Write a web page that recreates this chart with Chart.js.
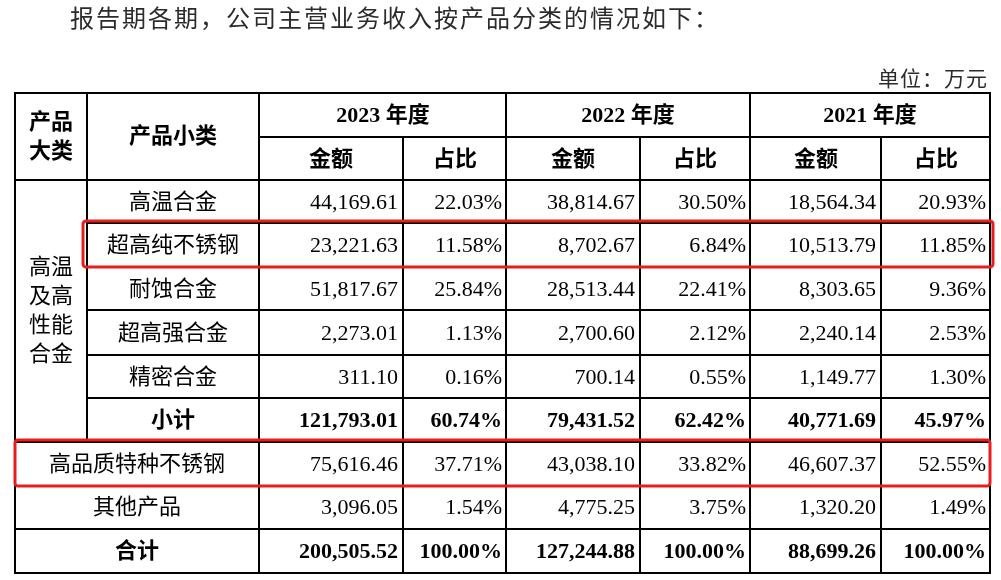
<!DOCTYPE html>
<html>
<head>
<meta charset="utf-8">
<script src="https://cdn.jsdelivr.net/npm/chart.js@4"></script>
<style>
  html, body { margin: 0; padding: 0; background: #fff; }
  #wrap { width: 1001px; height: 580px; }
</style>
</head>
<body>
<div id="wrap"><canvas id="tableChart" width="1001" height="580"></canvas></div>
<script>
// Data
const title = '报告期各期，公司主营业务收入按产品分类的情况如下：';
const unitLabel = '单位：万元';
const years = ['2023 年度', '2022 年度', '2021 年度'];
const mainGroup = '高温及高性能合金';
const subCategories = ['高温合金', '超高纯不锈钢', '耐蚀合金', '超高强合金', '精密合金'];
const otherRows = ['高品质特种不锈钢', '其他产品'];
const subtotalLabel = '小计';
const totalLabel = '合计';

// row order: 5 sub categories, subtotal, 2 other rows, total
const amounts2023 = [44169.61, 23221.63, 51817.67, 2273.01, 311.10, 121793.01, 75616.46, 3096.05, 200505.52];
const shares2023 = [22.03, 11.58, 25.84, 1.13, 0.16, 60.74, 37.71, 1.54, 100.00];
const amounts2022 = [38814.67, 8702.67, 28513.44, 2700.60, 700.14, 79431.52, 43038.10, 4775.25, 127244.88];
const shares2022 = [30.50, 6.84, 22.41, 2.12, 0.55, 62.42, 33.82, 3.75, 100.00];
const amounts2021 = [18564.34, 10513.79, 8303.65, 2240.14, 1149.77, 40771.69, 46607.37, 1320.20, 88699.26];
const shares2021 = [20.93, 11.85, 9.36, 2.53, 1.30, 45.97, 52.55, 1.49, 100.00];

// Layout (table grid in scale units)
const colX = [15, 87, 259, 403, 506, 640, 750, 881, 990];
const rowY = [93, 137, 180, 223, 267, 310, 355, 398, 442, 486, 529, 573];
const highlightRows = [3, 8]; // index into rowY of the boxed rows' top edge

const FONT = "'Liberation Serif', 'Noto Sans CJK SC', serif";

const formatMoney = (v) => v.toLocaleString('en-US', { minimumFractionDigits: 2, maximumFractionDigits: 2 });
const formatPct = (v) => v.toFixed(2) + '%';

const tablePlugin = {
    id: 'tablePlugin',
    afterDraw(chart) {
        const ctx = chart.ctx;
        const xs = chart.scales.x;
        const ys = chart.scales.y;
        const px = v => Math.round(xs.getPixelForValue(v));
        const py = v => Math.round(ys.getPixelForValue(v));

        ctx.save();

        // title + unit
        ctx.fillStyle = '#2b2b2b';
        ctx.textBaseline = 'middle';
        ctx.font = "24px 'Noto Sans CJK SC'";
        ctx.letterSpacing = '2px';
        ctx.textAlign = 'left';
        ctx.fillText(title, px(70), py(18));
        ctx.letterSpacing = '1px';
        ctx.font = "21px 'Noto Sans CJK SC'";
        ctx.textAlign = 'right';
        ctx.fillText(unitLabel, px(988), py(78));
        ctx.letterSpacing = '0px';

        // grid lines
        ctx.strokeStyle = '#000';
        ctx.lineWidth = 2;
        const hLine = (y, x0, x1) => {
            ctx.beginPath(); ctx.moveTo(px(x0) - 1, py(y)); ctx.lineTo(px(x1) + 1, py(y)); ctx.stroke();
        };
        const vLine = (x, y0, y1) => {
            ctx.beginPath(); ctx.moveTo(px(x), py(y0) - 1); ctx.lineTo(px(x), py(y1) + 1); ctx.stroke();
        };
        const L = colX[0], R = colX[colX.length - 1];
        const T = rowY[0], B = rowY[rowY.length - 1];
        hLine(rowY[0], L, R);
        hLine(rowY[1], colX[2], R);
        hLine(rowY[2], L, R);
        for (let i = 3; i <= 7; i++) hLine(rowY[i], colX[1], R);
        for (let i = 8; i < rowY.length; i++) hLine(rowY[i], L, R);
        vLine(L, T, B);
        vLine(R, T, B);
        vLine(colX[1], T, rowY[8]);
        vLine(colX[2], T, B);
        vLine(colX[4], T, B);
        vLine(colX[6], T, B);
        vLine(colX[3], rowY[1], B);
        vLine(colX[5], rowY[1], B);
        vLine(colX[7], rowY[1], B);

        const text = (str, x, y, align, bold) => {
            ctx.font = (bold ? 'bold ' : '') + '22px ' + FONT;
            ctx.textAlign = align;
            ctx.fillText(str, px(x), py(y));
        };
        ctx.fillStyle = '#000';
        const midX = (a, b) => (colX[a] + colX[b]) / 2;
        const midY = (a, b) => (rowY[a] + rowY[b]) / 2;

        // header
        text('产品', midX(0, 1), 123, 'center', true);
        text('大类', midX(0, 1), 152, 'center', true);
        text('产品小类', midX(1, 2), midY(0, 2), 'center', true);
        years.forEach((yr, i) => {
            const c = 2 + i * 2;
            text(yr, midX(c, c + 2), midY(0, 1) + 1, 'center', true);
            text('金额', midX(c, c + 1), midY(1, 2) + 1, 'center', true);
            text('占比', midX(c + 1, c + 2), midY(1, 2) + 1, 'center', true);
        });

        // left merged group label (2 chars per line)
        const groupLines = mainGroup.match(/.{1,2}/g);
        const gMid = midY(2, 8);
        groupLines.forEach((ln, i) => {
            text(ln, midX(0, 1), gMid + (i - (groupLines.length - 1) / 2) * 29, 'center', false);
        });

        // label column
        subCategories.forEach((name, i) => text(name, midX(1, 2), midY(2 + i, 3 + i) + 1, 'center', false));
        text(subtotalLabel, midX(1, 2), midY(7, 8) + 1, 'center', true);
        otherRows.forEach((name, i) => text(name, midX(0, 2), midY(8 + i, 9 + i) + 1, 'center', false));
        text(totalLabel, midX(0, 2), midY(10, 11) + 1, 'center', true);

        // values
        const series = [
            [amounts2023, shares2023],
            [amounts2022, shares2022],
            [amounts2021, shares2021]
        ];
        series.forEach(([amt, shr], yi) => {
            const c = 2 + yi * 2;
            amt.forEach((v, r) => {
                const bold = r === 5 || r === 8;
                const y = midY(2 + r, 3 + r) + 1;
                text(formatMoney(v), colX[c + 1] - 5, y, 'right', bold);
                text(formatPct(shr[r]), colX[c + 2] - 4, y, 'right', bold);
            });
        });

        // red highlight boxes
        ctx.strokeStyle = '#ea1d1d';
        ctx.lineWidth = 3;
        const box = (x0, y0, x1, y1) => {
            ctx.beginPath();
            ctx.roundRect(px(x0), py(y0), px(x1) - px(x0), py(y1) - py(y0), 3);
            ctx.stroke();
        };
        box(83, rowY[highlightRows[0]] - 2, 993, rowY[highlightRows[0] + 1]);
        box(15, rowY[highlightRows[1]] - 2, 990, rowY[highlightRows[1] + 1]);

        ctx.restore();
    }
};

new Chart(document.getElementById('tableChart'), {
    type: 'scatter',
    data: { datasets: [] },
    options: {
        responsive: false,
        animation: false,
        devicePixelRatio: 1,
        layout: { padding: 0 },
        plugins: { legend: { display: false }, tooltip: { enabled: false } },
        scales: {
            x: { type: 'linear', min: 0, max: 1001, display: false },
            y: { type: 'linear', min: 0, max: 580, reverse: true, display: false }
        }
    },
    plugins: [tablePlugin]
});
</script>
</body>
</html>
